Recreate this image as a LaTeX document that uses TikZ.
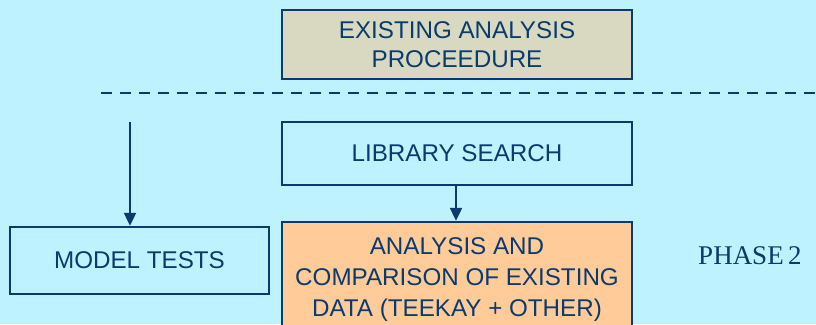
\documentclass[tikz,border=0pt]{standalone}
\usepackage{fontspec}
\setmainfont{Liberation Sans}
\newfontfamily\serifphase{Liberation Serif}
\usetikzlibrary{arrows.meta}
\definecolor{bgc}{HTML}{BFF2FF}
\definecolor{navy}{HTML}{0B3A6C}
\definecolor{beige}{HTML}{D8D9C0}
\definecolor{orangec}{HTML}{FFCC99}
\begin{document}
\begin{tikzpicture}[x=1pt,y=-1pt,
  box/.style={draw=navy,line width=2.5pt,text=navy,align=center,inner sep=0pt,
    font=\fontsize{24.2}{29}\selectfont},
  arr/.style={draw=navy,line width=2.4pt,-{Triangle[length=13pt,width=12pt]}}]
\fill[bgc] (0,0) rectangle (816,324);
\useasboundingbox (0,0) rectangle (816,324);
\node[box,fill=beige,minimum width=350pt,minimum height=69pt] (top) at (457,44.5) {EXISTING ANALYSIS\\PROCEEDURE};
\coordinate (dl) at (101,93);
\coordinate (dr) at (816,93);
\draw[navy,line width=2.2pt,dash pattern=on 11pt off 8pt] (dl) -- (dr);
\node[box,fill=bgc,minimum width=350pt,minimum height=63pt] (lib) at (457,153.5) {LIBRARY SEARCH};
\node[box,fill=bgc,minimum width=259pt,minimum height=67pt] (model) at (139.5,260.5) {MODEL TESTS};
\node[box,fill=orangec,minimum width=350pt,minimum height=120pt] (ana) at (457,282) {};
\node[text=navy,align=center,font=\fontsize{24.2}{31}\selectfont] (anatext) at (457,280) {ANALYSIS AND\\COMPARISON OF EXISTING\\DATA (TEEKAY + OTHER)};
\node[text=navy,font=\serifphase\fontsize{27}{30}\selectfont] (phase) at (750,256) {PHASE\,2};
\coordinate (mstart) at (130,122);
\draw[arr] (mstart) -- (model.north -| mstart);
\draw[arr] (lib.south -| 456,0) -- (ana.north -| 456,0);
\end{tikzpicture}
\end{document}
